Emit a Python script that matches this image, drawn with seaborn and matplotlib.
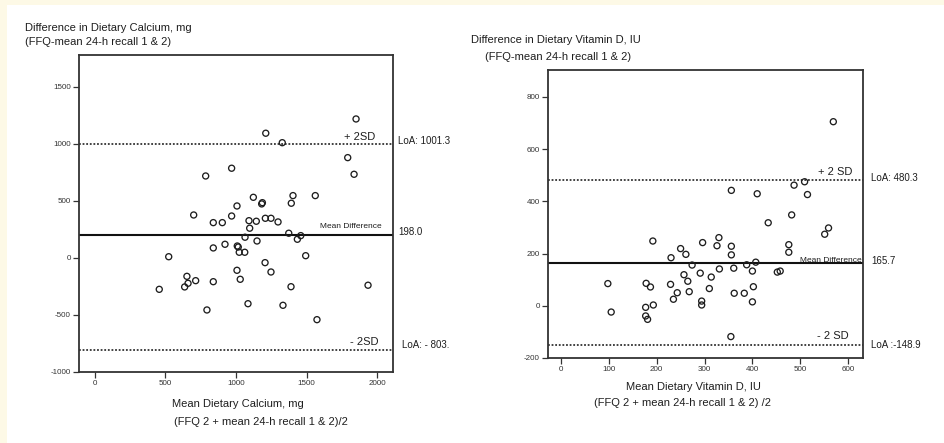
import matplotlib
matplotlib.use("Agg")
import matplotlib.pyplot as plt
from matplotlib.patches import Rectangle
import pandas as pd
import seaborn as sns

# == DATA ==
# Calcium (mg): mean of the two methods vs their difference
ca_mean = [1851, 1211, 1328, 1792, 1837, 969, 785, 1404, 1562, 1123,
           1182, 1187, 1392, 1007, 700, 969, 839, 903, 1092, 1144,
           1208, 1248, 1298, 1097, 1374, 1459, 1435, 1064, 1149, 839,
           922, 1009, 1016, 1023, 1062, 523, 1494, 1206, 1248, 1007,
           1030, 652, 660, 636, 714, 839, 456, 1390, 1936, 794,
           1085, 1333, 1574]
ca_diff = [1219, 1094, 1011, 880, 734, 787, 719, 547, 547, 532,
           474, 485, 480, 456, 377, 368, 310, 310, 327, 322,
           348, 348, 316, 261, 217, 196, 164, 182, 149, 88,
           120, 105, 96, 50, 50, 11, 20, -41, -123, -108,
           -187, -161, -222, -254, -199, -208, -275, -252, -239, -456,
           -401, -415, -541]
ca_lines = [1001.3, 198.0, -803.0]   # +2SD, mean difference, -2SD
ca_xticks = [0, 500, 1000, 1500, 2000]
ca_yticks = [-1000, -500, 0, 500, 1000, 1500]

# Vitamin D (IU)
vd_mean = [569, 509, 487, 515, 356, 410, 482, 433, 559, 551,
           192, 296, 330, 326, 356, 476, 250, 261, 230, 356,
           476, 274, 388, 407, 400, 331, 361, 291, 314, 257,
           265, 229, 243, 235, 268, 310, 362, 383, 402, 400,
           294, 294, 452, 458, 98, 105, 178, 187, 177, 193,
           177, 181, 355]
vd_diff = [705, 475, 462, 426, 442, 429, 348, 318, 298, 274,
           248, 242, 261, 230, 228, 234, 219, 197, 184, 195,
           205, 156, 157, 167, 133, 141, 144, 125, 110, 119,
           94, 82, 50, 25, 54, 66, 48, 48, 73, 15,
           18, 3, 129, 133, 85, -24, 86, 72, -6, 3,
           -39, -52, -118]
vd_lines = [480.3, 165.7, -148.9]
vd_xticks = [0, 100, 200, 300, 400, 500, 600]
vd_yticks = [-200, 0, 200, 400, 600, 800]

ca_labels = ["+ 2SD", "Mean Difference", "- 2SD"]
ca_values = ["LoA: 1001.3", "198.0", "LoA: - 803."]
vd_labels = ["+ 2 SD", "Mean Difference", "- 2 SD"]
vd_values = ["LoA: 480.3", "165.7", "LoA :-148.9"]

W, H = 944, 443
INK = "#1e1e1e"


def px(x, y):
    return x / W, 1 - y / H


sns.set_theme(style="ticks")
plt.rcParams['font.family'] = ['Liberation Sans', 'DejaVu Sans']
plt.rcParams['axes.unicode_minus'] = False

fig = plt.figure(figsize=(W / 100, H / 100), dpi=100)
fig.patch.set_facecolor("#fdf9e6")
fig.patches.append(Rectangle(px(7, H), 1, 1 - 5 / H, transform=fig.transFigure,
                             facecolor="white", edgecolor="none", zorder=-5))


def bland_altman(rect, means, diffs, lines, xlim, ylim, xticks, yticks,
                 labels, label_off, values, value_off, mean_va="center"):
    ax = fig.add_axes(rect)
    ax.set_facecolor("none")
    df = pd.DataFrame({"mean": means, "diff": diffs})
    sns.scatterplot(data=df, x="mean", y="diff", ax=ax, s=19, marker="o",
                    facecolor="none", edgecolor=INK, linewidth=0.95, zorder=3)
    ax.axhline(lines[0], color="#333333", lw=1.3, ls=(0, (1, 1)))
    ax.axhline(lines[1], color="#111111", lw=1.5)
    ax.axhline(lines[2], color="#333333", lw=1.3, ls=(0, (1, 1)))
    ax.set_xlim(*xlim)
    ax.set_ylim(*ylim)
    ax.set_xticks(xticks)
    ax.set_yticks(yticks)
    ax.set_xlabel("")
    ax.set_ylabel("")
    ax.tick_params(direction="out", length=4, width=0.9, labelsize=5.8,
                   colors="#333333", pad=2)
    for s in ax.spines.values():
        s.set_linewidth(1.3)
        s.set_color("#333333")
    for i, (val, lab) in enumerate(zip(lines, labels)):
        fs, dx, dy = label_off[i]
        va = mean_va if i == 1 else "center"
        ax.annotate(lab, xy=(1, val), xycoords=("axes fraction", "data"),
                    xytext=(dx, dy), textcoords="offset pixels",
                    ha="right", va=va, fontsize=fs, color=INK)
        fs, dx, dy = value_off[i]
        ax.annotate(values[i], xy=(1, val), xycoords=("axes fraction", "data"),
                    xytext=(dx, dy), textcoords="offset pixels",
                    ha="left", va="center", fontsize=fs, color=INK,
                    annotation_clip=False)
    return ax


# left: calcium
bland_altman([79 / W, 1 - 372 / H, 314 / W, 317 / H], ca_mean, ca_diff, ca_lines,
             (-113, 2113), (-1000, 1780), ca_xticks, ca_yticks,
             ca_labels, [(8, -18, 7), (6, -11, 9), (8, -15, 8)],
             ca_values, [(7, 5, 3), (7, 5, 3), (7, 9, 5)])

# right: vitamin D
bland_altman([548 / W, 1 - 358 / H, 315 / W, 288 / H], vd_mean, vd_diff, vd_lines,
             (-27, 631), (-200, 903), vd_xticks, vd_yticks,
             vd_labels, [(8, -11, 8), (6, -1, 1), (8, -14, 9)],
             vd_values, [(7, 8, 2), (7, 8, 2), (7, 8, 0)], mean_va="baseline")

# axis titles
txt = dict(fontsize=8, color=INK, ha="left", va="center")
fig.text(*px(25, 28), "Difference in Dietary Calcium, mg", **txt)
fig.text(*px(25, 42), "(FFQ-mean 24-h recall 1 & 2)", **txt)
fig.text(*px(172, 404), "Mean Dietary Calcium, mg", **txt)
fig.text(*px(174, 422), "(FFQ 2 + mean 24-h recall 1 & 2)/2", **txt)
fig.text(*px(471, 40), "Difference in Dietary Vitamin D, IU", **txt)
fig.text(*px(485, 57), "(FFQ-mean 24-h recall 1 & 2)", **txt)
fig.text(*px(626, 387), "Mean Dietary Vitamin D, IU", **txt)
fig.text(*px(594, 403), "(FFQ 2 + mean 24-h recall 1 & 2) /2", **txt)

plt.savefig("out.png", dpi=100, facecolor=fig.get_facecolor())
plt.close()
